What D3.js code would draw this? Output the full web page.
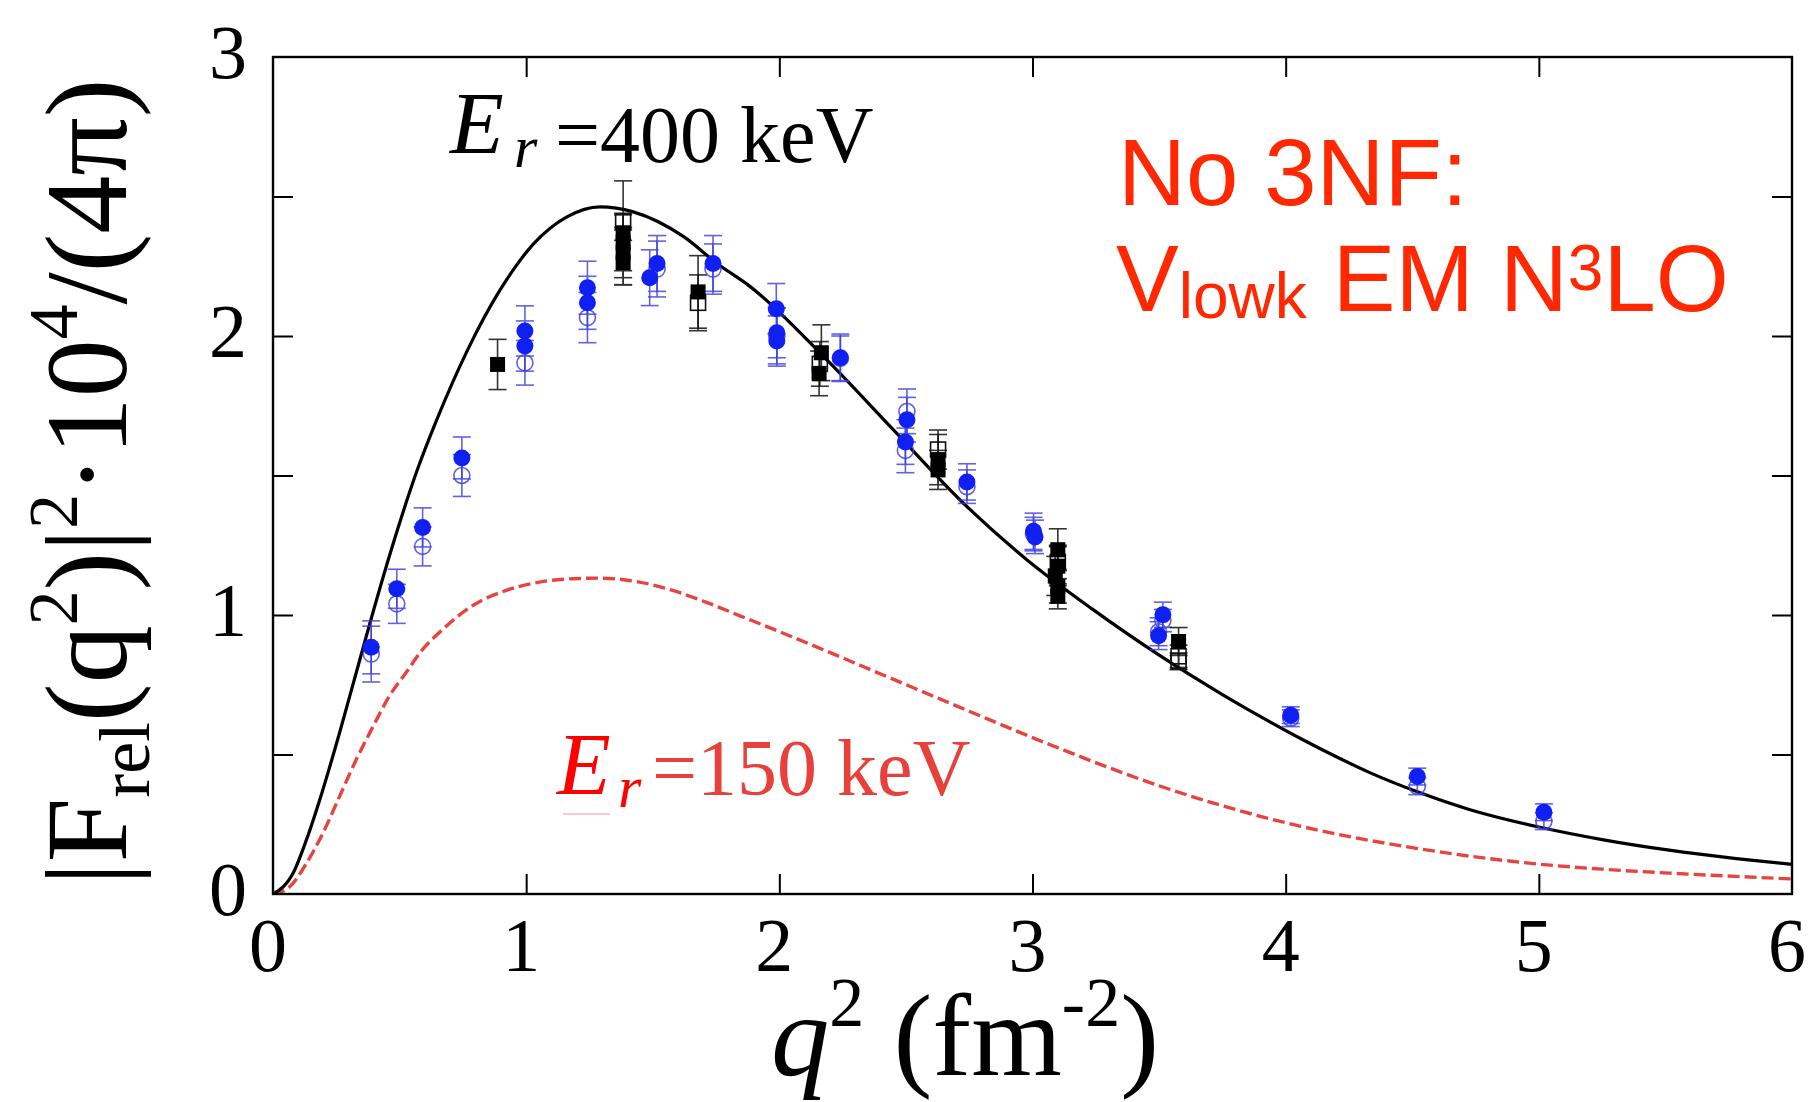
<!DOCTYPE html>
<html>
<head>
<meta charset="utf-8">
<script src="https://cdn.jsdelivr.net/npm/d3@7"></script>
<style>
  html, body { margin: 0; padding: 0; background: #ffffff; }
  svg { display: block; }
</style>
</head>
<body>
<svg id="chart" width="1809" height="1102"></svg>
<script>
// ---------------- data ----------------
const xTicks = [0, 1, 2, 3, 4, 5, 6];
const yTicks = [0, 0.5, 1, 1.5, 2, 2.5, 3];
const yTickLabels = [0, 1, 2, 3];

// theory, E_r = 400 keV (solid)
const q2_400 = [0, 0.079, 0.132, 0.197, 0.263, 0.329, 0.395, 0.476, 0.568, 0.647, 0.766, 0.897, 1.029, 1.161, 1.292, 1.423, 1.622, 1.754, 1.885, 2.186, 2.449, 2.712, 2.975, 3.238, 3.502, 3.75, 3.936, 4.068, 4.2, 4.33, 4.515, 4.725, 5.0, 5.25, 5.515, 5.78, 6.0];
const f_400  = [0, 0.074, 0.194, 0.374, 0.578, 0.794, 1.01, 1.26, 1.515, 1.70, 1.945, 2.165, 2.33, 2.427, 2.463, 2.445, 2.356, 2.26, 2.177, 1.916, 1.665, 1.414, 1.20, 1.02, 0.855, 0.715, 0.618, 0.553, 0.492, 0.436, 0.368, 0.303, 0.240, 0.195, 0.157, 0.127, 0.106];

// theory, E_r = 150 keV (dashed)
const q2_150 = [0, 0.066, 0.132, 0.197, 0.263, 0.329, 0.395, 0.46, 0.526, 0.592, 0.658, 0.789, 0.921, 1.053, 1.184, 1.29, 1.447, 1.579, 1.71, 1.842, 1.974, 2.05, 2.449, 2.75, 3.07, 3.5, 3.936, 4.2, 4.46, 4.725, 4.99, 5.25, 5.515, 5.78, 6.0];
const f_150  = [0, 0.026, 0.11, 0.218, 0.35, 0.482, 0.60, 0.71, 0.794, 0.878, 0.938, 1.034, 1.088, 1.118, 1.13, 1.132, 1.118, 1.088, 1.046, 0.998, 0.95, 0.922, 0.77, 0.655, 0.535, 0.388, 0.27, 0.215, 0.172, 0.136, 0.108, 0.089, 0.075, 0.063, 0.054];

// measurements: blue filled circles
const blueQ2  = [0.388, 0.489, 0.591, 0.746, 0.995, 0.995, 1.242, 1.242, 1.488, 1.517, 1.738, 1.988, 1.99, 1.99, 2.241, 2.504, 2.498, 2.741, 3.004, 3.01, 3.515, 3.498, 4.02, 4.52, 5.02];
const blueF   = [0.884, 1.094, 1.314, 1.563, 2.018, 1.964, 2.173, 2.119, 2.209, 2.26, 2.26, 2.098, 2.012, 1.982, 1.922, 1.70, 1.62, 1.477, 1.30, 1.28, 1.001, 0.926, 0.641, 0.421, 0.293];
const blueErr = [0.095, 0.07, 0.07, 0.075, 0.09, 0.09, 0.095, 0.095, 0.1, 0.1, 0.1, 0.09, 0.09, 0.09, 0.085, 0.08, 0.08, 0.065, 0.065, 0.06, 0.045, 0.05, 0.03, 0.03, 0.03];

// measurements: blue open circles
const blueOpenQ2  = [0.388, 0.489, 0.591, 0.746, 0.995, 1.242, 1.517, 1.738, 1.99, 2.241, 2.504, 2.498, 2.741, 3.004, 3.515, 3.498, 4.02, 4.52, 5.02];
const blueOpenF   = [0.86, 1.04, 1.246, 1.50, 1.904, 2.066, 2.24, 2.24, 2.0, 1.92, 1.73, 1.59, 1.46, 1.29, 0.98, 0.94, 0.63, 0.386, 0.261];
const blueOpenErr = [0.1, 0.07, 0.07, 0.075, 0.08, 0.09, 0.1, 0.09, 0.1, 0.08, 0.08, 0.08, 0.06, 0.06, 0.04, 0.05, 0.03, 0.03, 0.03];

// measurements: black filled squares
const blackQ2  = [0.887, 1.383, 1.383, 1.383, 1.383, 1.679, 2.166, 2.157, 2.627, 2.627, 3.1, 3.1, 3.09, 3.1, 3.1, 3.577];
const blackF   = [1.898, 2.37, 2.334, 2.299, 2.263, 2.158, 1.94, 1.866, 1.557, 1.52, 1.234, 1.175, 1.14, 1.103, 1.067, 0.905];
const blackErr = [0.09, 0.186, 0.1, 0.09, 0.08, 0.13, 0.1, 0.08, 0.09, 0.07, 0.075, 0.07, 0.07, 0.06, 0.045, 0.05];

// measurements: black open squares
const blackOpenQ2  = [1.383, 1.679, 2.16, 2.627, 3.1, 3.577, 3.577];
const blackOpenF   = [2.41, 2.119, 1.90, 1.593, 1.19, 0.852, 0.834];
const blackOpenErr = [0.03, 0.1, 0.08, 0.07, 0.06, 0.04, 0.03];

// ---------------- layout ----------------
const plot = { left: 273, right: 1792, top: 57, bottom: 894 };
const svg = d3.select('#chart');

const x = d3.scaleLinear().domain([0, 6]).range([plot.left, plot.right]);
const y = d3.scaleLinear().domain([0, 3]).range([plot.bottom, plot.top]);

const serif = "'Liberation Serif', 'Times New Roman', Times, serif";
const sans = "'Liberation Sans', Arial, Helvetica, sans-serif";

// ---------------- axes (inward ticks on all four sides) ----------------
const tickLen = 20;
function styleAxis(g) {
  g.select('.domain').remove();
  g.selectAll('.tick line').attr('stroke', '#000').attr('stroke-width', 2);
  g.selectAll('.tick text').remove();
}
svg.append('g').attr('transform', `translate(0,${plot.bottom})`)
  .call(d3.axisBottom(x).tickValues(xTicks.slice(1, -1)).tickSize(-tickLen).tickSizeOuter(0)).call(styleAxis);
svg.append('g').attr('transform', `translate(0,${plot.top})`)
  .call(d3.axisTop(x).tickValues(xTicks.slice(1, -1)).tickSize(-tickLen).tickSizeOuter(0)).call(styleAxis);
svg.append('g').attr('transform', `translate(${plot.left},0)`)
  .call(d3.axisLeft(y).tickValues(yTicks.slice(1, -1)).tickSize(-tickLen).tickSizeOuter(0)).call(styleAxis);
svg.append('g').attr('transform', `translate(${plot.right},0)`)
  .call(d3.axisRight(y).tickValues(yTicks.slice(1, -1)).tickSize(-tickLen).tickSizeOuter(0)).call(styleAxis);

// tick labels
svg.append('g').selectAll('text').data(xTicks).join('text')
  .attr('x', d => x(d) - 5).attr('y', 971)
  .attr('text-anchor', 'middle')
  .attr('font-family', serif).attr('font-size', 76)
  .text(d => d);
svg.append('g').selectAll('text').data(yTickLabels).join('text')
  .attr('x', 247).attr('y', d => y(d) + 21)
  .attr('text-anchor', 'end')
  .attr('font-family', serif).attr('font-size', 76)
  .text(d => d);

// ---------------- curves ----------------
const line = d3.line().curve(d3.curveMonotoneX).x(d => x(d[0])).y(d => y(d[1]));
svg.append('clipPath').attr('id', 'plot-clip').append('rect')
  .attr('x', plot.left).attr('y', plot.top)
  .attr('width', plot.right - plot.left).attr('height', plot.bottom - plot.top);

svg.append('path')
  .datum(d3.zip(q2_150, f_150))
  .attr('clip-path', 'url(#plot-clip)')
  .attr('fill', 'none').attr('stroke', '#e8443f').attr('stroke-width', 3.4)
  .attr('stroke-dasharray', '12,5')
  .attr('d', line);

svg.append('path')
  .datum(d3.zip(q2_400, f_400))
  .attr('clip-path', 'url(#plot-clip)')
  .attr('fill', 'none').attr('stroke', '#000').attr('stroke-width', 3.2)
  .attr('d', line);

// ---------------- measurements ----------------
const capHalf = 9;
function errorBars(q2, f, err, color, opacity) {
  const g = svg.append('g').attr('stroke', color).attr('stroke-width', 1.6).attr('opacity', opacity);
  const rows = d3.zip(q2, f, err);
  g.selectAll('line.v').data(rows).join('line').attr('class', 'v')
    .attr('x1', d => x(d[0])).attr('x2', d => x(d[0]))
    .attr('y1', d => y(d[1] - d[2])).attr('y2', d => y(d[1] + d[2]));
  g.selectAll('line.t').data(rows).join('line').attr('class', 't')
    .attr('x1', d => x(d[0]) - capHalf).attr('x2', d => x(d[0]) + capHalf)
    .attr('y1', d => y(d[1] + d[2])).attr('y2', d => y(d[1] + d[2]));
  g.selectAll('line.b').data(rows).join('line').attr('class', 'b')
    .attr('x1', d => x(d[0]) - capHalf).attr('x2', d => x(d[0]) + capHalf)
    .attr('y1', d => y(d[1] - d[2])).attr('y2', d => y(d[1] - d[2]));
}

errorBars(blueOpenQ2, blueOpenF, blueOpenErr, '#3b3be0', 0.8);
errorBars(blueQ2, blueF, blueErr, '#3b3be0', 0.8);
errorBars(blackOpenQ2, blackOpenF, blackOpenErr, '#111', 0.85);
errorBars(blackQ2, blackF, blackErr, '#111', 0.85);

// open markers
svg.append('g').selectAll('circle').data(d3.zip(blueOpenQ2, blueOpenF)).join('circle')
  .attr('cx', d => x(d[0])).attr('cy', d => y(d[1])).attr('r', 8)
  .attr('fill', 'none').attr('stroke', '#4343e2').attr('stroke-width', 1.6).attr('opacity', 0.85);
const sq = 15;
svg.append('g').selectAll('rect').data(d3.zip(blackOpenQ2, blackOpenF)).join('rect')
  .attr('x', d => x(d[0]) - sq / 2).attr('y', d => y(d[1]) - sq / 2)
  .attr('width', sq).attr('height', sq)
  .attr('fill', 'none').attr('stroke', '#111').attr('stroke-width', 1.6);

// filled markers
svg.append('g').selectAll('circle').data(d3.zip(blueQ2, blueF)).join('circle')
  .attr('cx', d => x(d[0])).attr('cy', d => y(d[1])).attr('r', 8.5)
  .attr('fill', '#1020f2');
svg.append('g').selectAll('rect').data(d3.zip(blackQ2, blackF)).join('rect')
  .attr('x', d => x(d[0]) - sq / 2).attr('y', d => y(d[1]) - sq / 2)
  .attr('width', sq).attr('height', sq)
  .attr('fill', '#000');

// ---------------- frame ----------------
svg.append('rect')
  .attr('x', plot.left).attr('y', plot.top)
  .attr('width', plot.right - plot.left).attr('height', plot.bottom - plot.top)
  .attr('fill', 'none').attr('stroke', '#000').attr('stroke-width', 2.4);

// ---------------- rich text helper ----------------
// pieces: [text, sizeFactor, shiftEm (positive = down), italic]
function richText(sel, pieces, fs) {
  sel.selectAll('tspan').remove();
  let prev = 0;
  pieces.forEach(([txt, k, shift, ital]) => {
    const dyPx = (shift - prev) * fs;
    prev = shift;
    sel.append('tspan')
      .attr('font-size', fs * k)
      .attr('font-style', ital ? 'italic' : 'normal')
      .attr('dy', dyPx)
      .text(txt);
  });
}
function fitRich(sel, pieces, fs, targetLen) {
  richText(sel, pieces, fs);
  const len = sel.node().getComputedTextLength();
  if (len > 0) richText(sel, pieces, fs * targetLen / len);
}

// y-axis title
const yTitlePieces = [
  ['|F', 1, 0], ['rel', 0.62, 0.2], ['(q', 1, 0], ['2', 0.6, -0.42],
  [')|', 1, 0], ['2', 0.6, -0.42], ['·10', 1, 0], ['4', 0.6, -0.42], ['/(4π)', 1, 0]
];
const yTitle = svg.append('text')
  .attr('transform', 'translate(126,482) rotate(-90)')
  .attr('text-anchor', 'middle')
  .attr('font-family', serif).attr('fill', '#000');
fitRich(yTitle, yTitlePieces, 122, 807);

// x-axis title
const xTitlePieces = [
  ['q', 1, 0, true], ['2', 0.6, -0.42], [' (fm', 1, 0], ['-2', 0.6, -0.42], [')', 1, 0]
];
const xTitle = svg.append('text')
  .attr('x', 965).attr('y', 1075)
  .attr('text-anchor', 'middle')
  .attr('font-family', serif).attr('fill', '#000');
fitRich(xTitle, xTitlePieces, 110, 388);

// ---------------- annotations ----------------
// E_r = 400 keV
const ann400 = svg.append('g').attr('font-family', serif).attr('fill', '#000');
ann400.append('text').attr('x', 450).attr('y', 153).attr('font-size', 88).attr('font-style', 'italic').text('E');
ann400.append('text').attr('x', 514).attr('y', 167).attr('font-size', 60).attr('font-style', 'italic').text('r');
ann400.append('text').attr('x', 555).attr('y', 162).attr('font-size', 80).text('=400 keV');

// E_r = 150 keV
const ann150 = svg.append('g').attr('font-family', serif);
ann150.append('text').attr('x', 557).attr('y', 794).attr('font-size', 88).attr('font-style', 'italic').attr('fill', '#ff0000').text('E');
ann150.append('text').attr('x', 618).attr('y', 807).attr('font-size', 60).attr('font-style', 'italic').attr('fill', '#ff0000').text('r');
ann150.append('text').attr('x', 652).attr('y', 795).attr('font-size', 80).attr('fill', '#e8403a').text('=150 keV');
ann150.append('line').attr('x1', 563).attr('x2', 610).attr('y1', 814).attr('y2', 814)
  .attr('stroke', '#ff6060').attr('stroke-width', 2).attr('opacity', 0.35);

// interaction label
const lbl = svg.append('g').attr('font-family', sans).attr('fill', '#ff2800');
lbl.append('text').attr('x', 1118).attr('y', 205).attr('font-size', 94).text('No 3NF:');
const l2 = lbl.append('text').attr('x', 1116).attr('y', 311).attr('font-size', 94);
l2.append('tspan').text('V');
l2.append('tspan').attr('font-size', 64).attr('dy', 7).text('lowk');
l2.append('tspan').attr('dy', -7).text(' EM N');
l2.append('tspan').attr('font-size', 64).attr('dy', -21).text('3');
l2.append('tspan').attr('dy', 21).text('LO');
</script>
</body>
</html>
